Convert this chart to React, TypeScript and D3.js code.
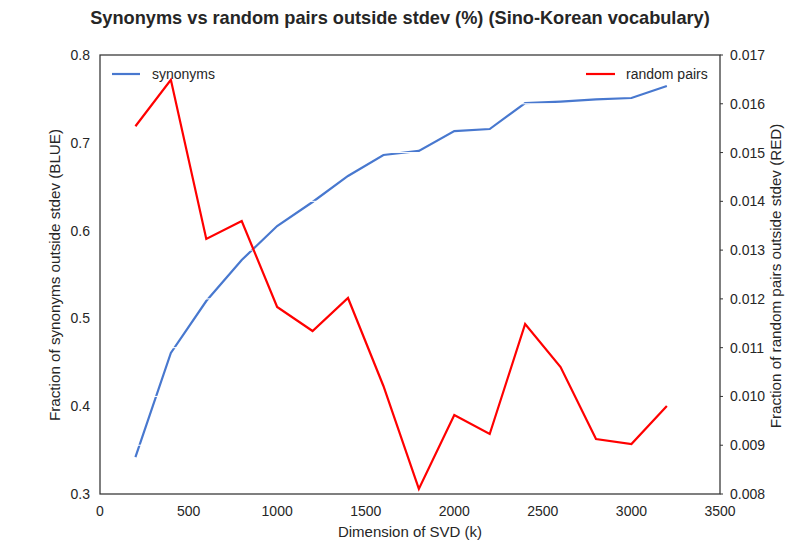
import React from "react";
import * as d3 from "d3";

const dims = [200, 400, 600, 800, 1000, 1200, 1400, 1600, 1800, 2000, 2200, 2400, 2600, 2800, 3000, 3200];
const synonyms = [0.342, 0.4606, 0.5198, 0.5665, 0.6052, 0.6326, 0.6622, 0.6861, 0.6907, 0.7134, 0.7157, 0.7453, 0.747, 0.7494, 0.751, 0.7647];
const randomPairs = [0.01554, 0.01649, 0.013228, 0.013597, 0.011834, 0.011342, 0.012018, 0.010214, 0.008103, 0.00962, 0.00923, 0.011485, 0.010604, 0.009128, 0.009025, 0.009804];
const xTicks = [0, 500, 1000, 1500, 2000, 2500, 3000, 3500];
const leftTicks = [0.3, 0.4, 0.5, 0.6, 0.7, 0.8];
const rightTicks = [0.008, 0.009, 0.01, 0.011, 0.012, 0.013, 0.014, 0.015, 0.016, 0.017];

const W = 800, H = 550;
const L = 100, R = 720, T = 55, B = 494;
const TXT = "#262626";
const BLUE = "#4878CF";
const RED = "#FF0000";
const FONT = "'Liberation Sans', Arial, sans-serif";

export default function App() {
  const x = d3.scaleLinear().domain([0, 3500]).range([L, R]);
  const yL = d3.scaleLinear().domain([0.3, 0.8]).range([B, T]);
  const yR = d3.scaleLinear().domain([0.008, 0.017]).range([B, T]);
  const blueLine = d3.line<number>().x((_, i) => x(dims[i])).y((d) => yL(d));
  const redLine = d3.line<number>().x((_, i) => x(dims[i])).y((d) => yR(d));

  return (
    <svg width={W} height={H} style={{ position: "absolute", left: 0, top: 0 }} fontFamily={FONT}>
      <rect width={W} height={H} fill="#fff" />
      <text x={400} y={24} textAnchor="middle" fontSize={18.2} fontWeight="bold" fill={TXT}>
        Synonyms vs random pairs outside stdev (%) (Sino-Korean vocabulary)
      </text>
      <path d={blueLine(synonyms) || ""} fill="none" stroke={BLUE} strokeWidth={2.2} />
      {rightTicks.map((t) => (
        <line key={"g" + t} x1={L} x2={R} y1={yR(t)} y2={yR(t)} stroke="#fff" strokeWidth={1} />
      ))}
      <path d={redLine(randomPairs) || ""} fill="none" stroke={RED} strokeWidth={2.2} />
      <rect x={L} y={T} width={R - L} height={B - T} fill="none" stroke="#333" strokeWidth={1.25} />
      {rightTicks.map((t) => (
        <line key={"rt" + t} x1={R} x2={R + 3} y1={yR(t)} y2={yR(t)} stroke="#333" strokeWidth={1} />
      ))}
      {leftTicks.map((t) => (
        <text key={"l" + t} x={90} y={yL(t) + 5} textAnchor="end" fontSize={14} fill={TXT}>
          {d3.format(".1f")(t)}
        </text>
      ))}
      {rightTicks.map((t) => (
        <text key={"r" + t} x={730} y={yR(t) + 5} textAnchor="start" fontSize={14} fill={TXT}>
          {d3.format(".3f")(t)}
        </text>
      ))}
      {xTicks.map((t) => (
        <text key={"x" + t} x={x(t)} y={516} textAnchor="middle" fontSize={14} fill={TXT}>
          {t}
        </text>
      ))}
      <text x={410} y={537} textAnchor="middle" fontSize={15} fill={TXT}>
        Dimension of SVD (k)
      </text>
      <text transform={`translate(60,275) rotate(-90)`} textAnchor="middle" fontSize={15.2} fill={TXT}>
        Fraction of synonyms outside stdev (BLUE)
      </text>
      <text transform={`translate(781,276) rotate(-90)`} textAnchor="middle" fontSize={15.2} fill={TXT}>
        Fraction of random pairs outside stdev (RED)
      </text>
      <line x1={112} x2={140} y1={74} y2={74} stroke={BLUE} strokeWidth={2.2} />
      <text x={152} y={79} fontSize={14} fill={TXT}>synonyms</text>
      <line x1={586} x2={615} y1={74} y2={74} stroke={RED} strokeWidth={2.2} />
      <text x={626} y={79} fontSize={14} fill={TXT}>random pairs</text>
    </svg>
  );
}
